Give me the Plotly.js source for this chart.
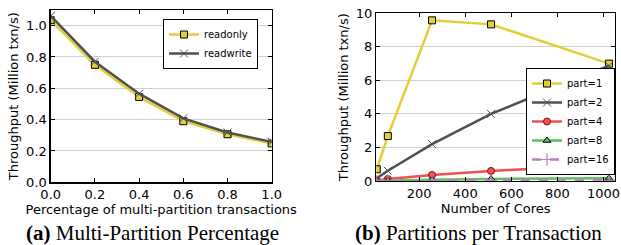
<!DOCTYPE html>
<html><head><meta charset="utf-8">
<script src="https://cdn.plot.ly/plotly-3.0.1.min.js"></script>
<style>html,body{margin:0;padding:0;background:#fff}#c{width:621px;height:245px}</style>
</head><body><div id="c"></div>
<script>
const mpFrac = [0.0, 0.2, 0.4, 0.6, 0.8, 1.0];
const readonly = [1.035, 0.75, 0.545, 0.39, 0.307, 0.248];
const readwrite = [1.062, 0.77, 0.566, 0.408, 0.318, 0.258];

const cores = [16, 64, 256, 512, 1024];
const part1 = [0.70, 2.68, 9.58, 9.34, 7.0];
const part2 = [0.16, 0.61, 2.2, 4.0, 6.88];
const part4 = [0.04, 0.12, 0.36, 0.6, 0.97];
const part8 = [0.01, 0.03, 0.08, 0.12, 0.17];
const part16 = [0.0, 0.01, 0.02, 0.03, 0.04];

const leftXTicks = [0, 0.2, 0.4, 0.6, 0.8, 1.0];
const leftYTicks = [0, 0.2, 0.4, 0.6, 0.8, 1.0];
const rightXTicks = [200, 400, 600, 800, 1000];
const rightYTicks = [0, 2, 4, 6, 8, 10];

const YEL = '#e2cf38', GRY = '#505050', RED = '#f05050', GRN = '#5cc05c', PUR = '#c07cc8';
const F = 'DejaVu Sans, sans-serif';

const traces = [
  {x: mpFrac, y: readonly, name: 'readonly', mode: 'lines+markers', xaxis: 'x', yaxis: 'y', legend: 'legend',
   line: {color: YEL, width: 2.5}, marker: {symbol: 'square', size: 7, color: YEL, line: {color: '#000', width: 1}}},
  {x: mpFrac, y: readwrite, name: 'readwrite', mode: 'lines+markers', xaxis: 'x', yaxis: 'y', legend: 'legend',
   line: {color: GRY, width: 2.5}, marker: {symbol: 'x-thin', size: 8, color: GRY, line: {color: GRY, width: 1}}},
  {x: cores, y: part1, name: 'part=1', mode: 'lines+markers', xaxis: 'x2', yaxis: 'y2', legend: 'legend2',
   line: {color: YEL, width: 2.5}, marker: {symbol: 'square', size: 7, color: YEL, line: {color: '#000', width: 1}}},
  {x: cores, y: part2, name: 'part=2', mode: 'lines+markers', xaxis: 'x2', yaxis: 'y2', legend: 'legend2',
   line: {color: GRY, width: 2.5}, marker: {symbol: 'x-thin', size: 8, color: GRY, line: {color: GRY, width: 1}}},
  {x: cores, y: part4, name: 'part=4', mode: 'lines+markers', xaxis: 'x2', yaxis: 'y2', legend: 'legend2',
   line: {color: RED, width: 2.5}, marker: {symbol: 'circle', size: 7, color: RED, line: {color: '#8a1010', width: 1}}},
  {x: cores, y: part8, name: 'part=8', mode: 'lines+markers', xaxis: 'x2', yaxis: 'y2', legend: 'legend2',
   line: {color: GRN, width: 2.5}, marker: {symbol: 'triangle-up', size: 7, color: GRN, line: {color: '#000', width: 1}}},
  {x: cores, y: part16, name: 'part=16', mode: 'lines+markers', xaxis: 'x2', yaxis: 'y2', legend: 'legend2',
   line: {color: PUR, width: 2.5, dash: 'dash'}, marker: {symbol: 'cross-thin', size: 9, color: PUR, line: {color: PUR, width: 1.2}}}
];

const axBase = {showline: true, linecolor: '#000', linewidth: 1.3, mirror: 'allticks', ticks: 'inside',
  ticklen: 4, tickcolor: '#000', tickfont: {family: F, size: 13, color: '#000'}, zeroline: false, automargin: false};
const TF = {family: F, size: 13, color: '#000'};

const layout = {
  width: 621, height: 245, margin: {l: 0, r: 0, t: 0, b: 0},
  paper_bgcolor: '#fff', plot_bgcolor: '#fff', font: {family: F, color: '#000'},
  xaxis: Object.assign({}, axBase, {domain: [50.7/621, 271.7/621], range: [0, 1], tickvals: leftXTicks, tickformat: '.1f',
    showgrid: false, title: {text: 'Percentage of multi-partition transactions', font: TF, standoff: 2}}),
  yaxis: Object.assign({}, axBase, {domain: [1 - 182.3/245, 1 - 10/245], range: [0, 1.1], tickvals: leftYTicks, tickformat: '.1f',
    showgrid: true, gridcolor: '#d0d0d0', gridwidth: 1, title: {text: 'Throughput (Million txn/s)', font: TF, standoff: 4}}),
  xaxis2: Object.assign({}, axBase, {domain: [376.3/621, 615/621], range: [14, 1050], tickvals: rightXTicks,
    showgrid: false, anchor: 'y2', title: {text: 'Number of Cores', font: TF, standoff: 2}}),
  yaxis2: Object.assign({}, axBase, {domain: [1 - 181/245, 1 - 13.3/245], range: [0, 10], tickvals: rightYTicks,
    showgrid: true, gridcolor: '#d0d0d0', gridwidth: 1, anchor: 'x2', title: {text: 'Throughput (Million txn/s)', font: TF, standoff: 4}}),
  legend: {x: 163/621, y: 1 - 19/245, xanchor: 'left', yanchor: 'top', bgcolor: '#fff', bordercolor: '#000', borderwidth: 1,
    font: {family: F, size: 10}, tracegroupgap: 0, itemwidth: 30},
  legend2: {x: 526/621, y: 1 - 68/245, xanchor: 'left', yanchor: 'top', bgcolor: '#fff', bordercolor: '#000', borderwidth: 1,
    font: {family: F, size: 10}, tracegroupgap: 0, itemwidth: 30},
  annotations: [
    {text: '<b>(a)</b> Multi-Partition Percentage', xref: 'paper', yref: 'paper', x: 152/621, y: 1 - 233/245,
     xanchor: 'center', yanchor: 'middle', showarrow: false, font: {family: 'Liberation Serif, serif', size: 21, color: '#000'}},
    {text: '<b>(b)</b> Partitions per Transaction', xref: 'paper', yref: 'paper', x: 478/621, y: 1 - 233/245,
     xanchor: 'center', yanchor: 'middle', showarrow: false, font: {family: 'Liberation Serif, serif', size: 21, color: '#000'}}
  ],
  showlegend: true
};

Plotly.newPlot('c', traces, layout, {displayModeBar: false, staticPlot: true});
</script></body></html>
